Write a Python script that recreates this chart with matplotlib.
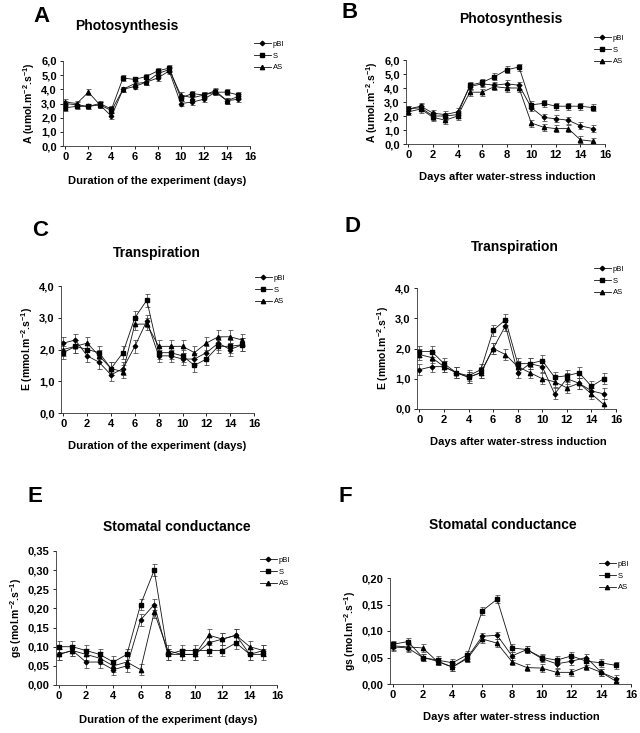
import matplotlib
matplotlib.use("Agg")
import matplotlib.pyplot as plt
from matplotlib.ticker import FuncFormatter, MultipleLocator
from matplotlib.lines import Line2D
import numpy as np

plt.rcParams['font.family'] = ['Liberation Sans', 'DejaVu Sans']
plt.rcParams['mathtext.fontset'] = 'custom'
plt.rcParams['mathtext.bf'] = 'Liberation Sans:bold'
plt.rcParams['mathtext.rm'] = 'Liberation Sans:bold'
plt.rcParams['mathtext.default'] = 'bf'

days = list(range(16))
series = ["pBI", "S", "AS"]

# Panel A - Photosynthesis (duration of experiment)
A_pBI = [3.0, 2.9, 2.8, 2.9, 2.1, 4.0, 4.2, 4.5, 4.8, 5.3, 3.0, 3.1, 3.3, 3.8, 3.2, 3.3]
A_S   = [2.7, 2.8, 2.8, 3.0, 2.6, 4.8, 4.7, 4.9, 5.3, 5.5, 3.4, 3.7, 3.6, 3.8, 3.8, 3.6]
A_AS  = [3.1, 3.0, 3.8, 2.9, 2.5, 4.0, 4.4, 4.5, 5.1, 5.4, 3.6, 3.4, 3.6, 3.9, 3.2, 3.5]
A_err = 0.2

# Panel B - Photosynthesis (after water stress)
B_pBI = [2.5, 2.7, 2.2, 2.1, 2.3, 4.1, 4.3, 4.2, 4.3, 4.2, 2.6, 1.9, 1.8, 1.7, 1.3, 1.1]
B_S   = [2.5, 2.6, 2.0, 2.0, 2.1, 4.2, 4.4, 4.8, 5.3, 5.5, 2.8, 2.9, 2.7, 2.7, 2.7, 2.6]
B_AS  = [2.3, 2.5, 1.9, 1.7, 2.0, 3.7, 3.7, 4.1, 4.0, 4.0, 1.5, 1.2, 1.1, 1.1, 0.3, 0.2]
B_err = 0.25

# Panel C - Transpiration (duration of experiment)
C_pBI = [2.2, 2.3, 1.8, 1.6, 1.2, 1.4, 2.1, 2.9, 1.8, 1.8, 1.7, 1.7, 1.9, 2.2, 2.0, 2.15]
C_S   = [1.9, 2.1, 2.0, 1.9, 1.4, 1.9, 3.0, 3.55, 1.9, 1.9, 1.8, 1.5, 1.7, 2.1, 2.1, 2.15]
C_AS  = [2.0, 2.1, 2.2, 1.8, 1.4, 1.3, 2.8, 2.8, 2.1, 2.1, 2.1, 1.9, 2.2, 2.4, 2.4, 2.3]
C_err = 0.2

# Panel D - Transpiration (after water stress)
D_pBI = [1.3, 1.4, 1.4, 1.2, 1.05, 1.2, 2.0, 2.75, 1.2, 1.5, 1.4, 0.5, 1.0, 0.85, 0.6, 0.5]
D_S   = [1.9, 1.9, 1.5, 1.2, 1.1, 1.3, 2.6, 2.95, 1.5, 1.5, 1.6, 1.05, 1.1, 1.2, 0.75, 1.0]
D_AS  = [1.8, 1.7, 1.4, 1.2, 1.05, 1.2, 2.0, 1.8, 1.4, 1.2, 1.0, 0.9, 0.7, 0.85, 0.5, 0.15]
D_err = 0.18

# Panel E - Stomatal conductance (duration of experiment)
E_pBI = [0.08, 0.09, 0.06, 0.06, 0.04, 0.05, 0.17, 0.21, 0.08, 0.08, 0.08, 0.11, 0.12, 0.13, 0.08, 0.09]
E_S   = [0.10, 0.10, 0.09, 0.08, 0.06, 0.08, 0.21, 0.30, 0.08, 0.09, 0.09, 0.09, 0.09, 0.11, 0.08, 0.08]
E_AS  = [0.08, 0.09, 0.08, 0.07, 0.05, 0.06, 0.04, 0.19, 0.09, 0.08, 0.08, 0.13, 0.12, 0.13, 0.10, 0.09]
E_err = 0.015

# Panel F - Stomatal conductance (after water stress)
F_pBI = [0.070, 0.068, 0.050, 0.043, 0.032, 0.050, 0.090, 0.092, 0.053, 0.065, 0.048, 0.038, 0.043, 0.050, 0.022, 0.010]
F_S   = [0.075, 0.080, 0.050, 0.045, 0.040, 0.055, 0.138, 0.160, 0.068, 0.065, 0.050, 0.045, 0.053, 0.043, 0.040, 0.035]
F_AS  = [0.072, 0.070, 0.068, 0.042, 0.032, 0.048, 0.085, 0.077, 0.042, 0.031, 0.030, 0.022, 0.022, 0.033, 0.022, 0.005]
F_err = 0.007

xlab1 = "Duration of the experiment (days)"
xlab2 = "Days after water-stress induction"
ylab_A = r"A (umol.m$^{-2}$.s$^{-1}$)"
ylab_E = r"E (mmol.m$^{-2}$.s$^{-1}$)"
ylab_gs = r"gs (mol.m$^{-2}$.s$^{-1}$)"

markers = {"pBI": "D", "S": "s", "AS": "^"}
msize = {"pBI": 2.3, "S": 2.7, "AS": 3.1}

W, H = 640, 733
fig = plt.figure(figsize=(6.4, 7.33), dpi=100)

def fx(px):
    return px / W

def fy(py):
    return 1 - py / H

panels = [
    ("A", (A_pBI, A_S, A_AS), A_err, 6.0, 1.0, 1, ylab_A, xlab1, "Photosynthesis",
     (63, 61, 250, 146), (42, 17), (127, 26), (157, 181), (250, 37)),
    ("B", (B_pBI, B_S, B_AS), B_err, 6.0, 1.0, 1, ylab_A, xlab2, "Photosynthesis",
     (406, 60, 605, 144), (350, 13), (511, 19), (507, 177), (590, 31)),
    ("C", (C_pBI, C_S, C_AS), C_err, 4.0, 1.0, 1, ylab_E, xlab1, "Transpiration",
     (61, 286, 254, 413), (40, 231), (157, 253), (157, 446), (251, 271)),
    ("D", (D_pBI, D_S, D_AS), D_err, 4.0, 1.0, 1, ylab_E, xlab2, "Transpiration",
     (417, 288, 616, 409), (353, 226), (515, 247), (518, 442), (590, 262)),
    ("E", (E_pBI, E_S, E_AS), E_err, 0.35, 0.05, 2, ylab_gs, xlab1, "Stomatal conductance",
     (56, 551, 277, 685), (35, 497), (177, 527), (168, 720), (256, 553)),
    ("F", (F_pBI, F_S, F_AS), F_err, 0.20, 0.05, 2, ylab_gs, xlab2, "Stomatal conductance",
     (390, 578, 631, 684), (345, 496), (503, 525), (511, 717), (595, 557)),
]

for (letter, data, err, ymax, ystep, dec, ylab, xlab, title,
     box, lpos, tpos, xlpos, legpos) in panels:
    l, t, r, b = box
    ax = fig.add_axes([fx(l), fy(b), fx(r - l), (b - t) / H])
    handles = []
    for name, vals in zip(series, data):
        ax.errorbar(days, vals, yerr=err, color="#111111", lw=0.6,
                    marker=markers[name], ms=msize[name], mfc="black", mec="black",
                    ecolor="#444444", elinewidth=0.55, capsize=1.8, capthick=0.55)
        handles.append(Line2D([], [], color="#111111", lw=0.6, marker=markers[name],
                              ms=msize[name], mfc="black", mec="black"))
    ax.set_xlim(-0.2, 16)
    ax.set_ylim(0, ymax)
    ax.xaxis.set_major_locator(MultipleLocator(2))
    ax.yaxis.set_major_locator(MultipleLocator(ystep))
    ax.yaxis.set_major_formatter(FuncFormatter(lambda v, p, d=dec: f"{v:.{d}f}".replace(".", ",")))
    for s in ("top", "right"):
        ax.spines[s].set_visible(False)
    for s in ("left", "bottom"):
        ax.spines[s].set_linewidth(0.6)
        ax.spines[s].set_color("#333333")
    ax.tick_params(direction="out", length=2.5, width=0.6, labelsize=8, pad=2)
    for lab in ax.get_xticklabels() + ax.get_yticklabels():
        lab.set_fontweight("bold")
    ax.set_ylabel(ylab, fontsize=7.5, fontweight="bold", labelpad=3)
    fig.text(fx(xlpos[0]), fy(xlpos[1]), xlab, ha="center", va="center",
             fontsize=8, fontweight="bold")
    fig.text(fx(tpos[0]), fy(tpos[1]), title, ha="center", va="center",
             fontsize=10, fontweight="bold")
    fig.text(fx(lpos[0]), fy(lpos[1]), letter, ha="center", va="center",
             fontsize=16, fontweight="bold")
    fig.legend(handles, series, loc="upper left",
               bbox_to_anchor=(fx(legpos[0]), fy(legpos[1])),
               bbox_transform=fig.transFigure, frameon=False, fontsize=5.5,
               handlelength=2.2, labelspacing=0.55, borderpad=0, handletextpad=0.3)

fig.savefig("out.png", dpi=100)
